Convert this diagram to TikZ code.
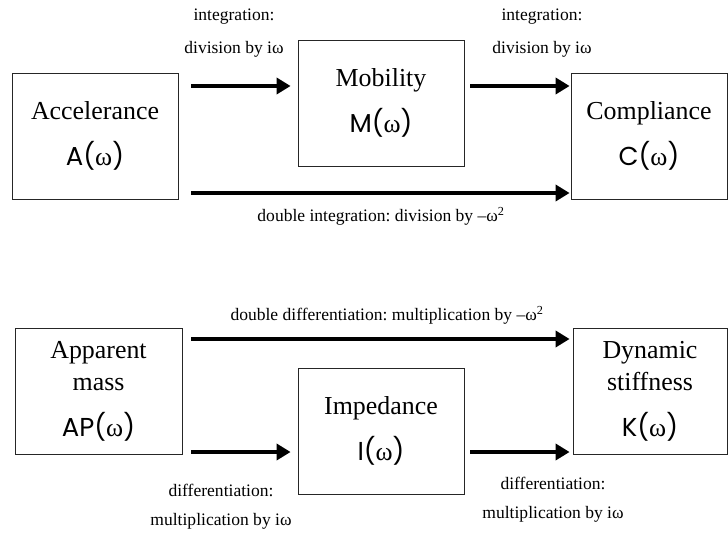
\documentclass[tikz,border=0pt]{standalone}
\usepackage{fontspec}
\setmainfont{Liberation Serif}
\setsansfont{Poppins}
\usetikzlibrary{arrows.meta,calc}
\newcommand\fnx[1]{{\sffamily #1(}ω{\sffamily )}}
\begin{document}
\frenchspacing
\begin{tikzpicture}[x=1bp,y=-1bp,
 box/.style={draw=black!85, line width=0.8bp, inner sep=0pt, align=center,
   minimum height=126bp, font=\fontsize{26}{32}\selectfont},
 lbl/.style={font=\fontsize{17.6}{20}\selectfont, inner sep=0pt},
 arr/.style={line width=4.5bp, -{Triangle[length=14bp,width=16bp]}}]
\useasboundingbox (0,0) rectangle (728,534);
% top row
\node[box, minimum width=166bp] (acc) at (95,136) {Accelerance\\[14bp]\fnx{A}};
\node[box, minimum width=166bp] (mob) at (381,103) {Mobility\\[14bp]\fnx{M}};
\node[box, minimum width=156bp] (comp) at (649,136) {Compliance\\[14bp]\fnx{C}};
\coordinate (r1) at (0,86);
\coordinate (r2) at (0,193);
\draw[arr] ($(acc.east |- r1)+(13,0)$) -- ($(mob.west |- r1)+(-7,0)$);
\draw[arr] ($(mob.east |- r1)+(6,0)$) -- ($(comp.west |- r1)+(-1,0)$);
\draw[arr] ($(acc.east |- r2)+(13,0)$) -- ($(comp.west |- r2)+(-1,0)$);
\node[lbl] (l1a) at (234,17) {integration:};
\node[lbl] (l1b) at (234,49) {division by iω};
\node[lbl] (l2a) at (542,17) {integration:};
\node[lbl] (l2b) at (542,49) {division by iω};
\node[lbl] (l3) at (381,216) {double integration: division by –ω\textsuperscript{2}};
% bottom row
\node[box, minimum width=167bp] (app) at (98.5,391) {Apparent\\mass\\[14bp]\fnx{AP}};
\node[box, minimum width=166bp] (imp) at (381,431) {Impedance\\[14bp]\fnx{I}};
\node[box, minimum width=154bp] (dyn) at (650,391) {Dynamic\\stiffness\\[14bp]\fnx{K}};
\coordinate (r3) at (0,339);
\coordinate (r4) at (0,452);
\draw[arr] ($(app.east |- r3)+(9,0)$) -- ($(dyn.west |- r3)+(-3,0)$);
\draw[arr] ($(app.east |- r4)+(9,0)$) -- ($(imp.west |- r4)+(-7,0)$);
\draw[arr] ($(imp.east |- r4)+(6,0)$) -- ($(dyn.west |- r4)+(-3,0)$);
\node[lbl] (l4) at (387,315) {double differentiation: multiplication by –ω\textsuperscript{2}};
\node[lbl] (l5a) at (221,490) {differentiation:};
\node[lbl] (l5b) at (221,521) {multiplication by iω};
\node[lbl] (l6a) at (553,483) {differentiation:};
\node[lbl] (l6b) at (553,514) {multiplication by iω};
\end{tikzpicture}
\end{document}
